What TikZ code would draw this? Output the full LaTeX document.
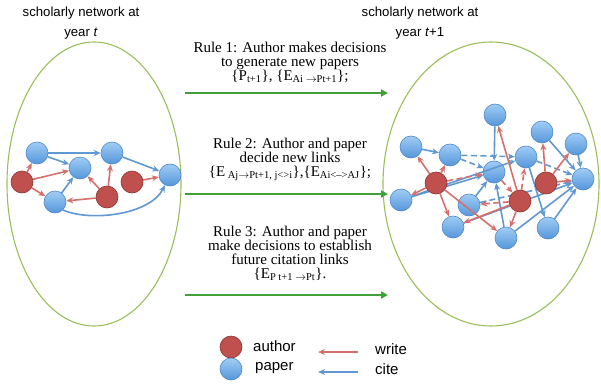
\documentclass[tikz,border=0pt]{standalone}
\usepackage{fontspec}
\setmainfont{Liberation Serif}
\newfontfamily\sansf{Liberation Sans}
\usetikzlibrary{arrows.meta,shapes.geometric}

\definecolor{authfill}{RGB}{192,80,77}
\definecolor{authline}{RGB}{140,52,50}
\definecolor{paptop}{RGB}{160,205,245}
\definecolor{papbot}{RGB}{85,150,218}
\definecolor{papline}{RGB}{80,135,200}
\definecolor{writecol}{RGB}{214,112,108}
\definecolor{citecol}{RGB}{95,152,210}
\definecolor{rimcol}{RGB}{155,190,90}
\definecolor{rulecol}{RGB}{65,160,55}

\tikzset{
  author/.style={circle, minimum size=22pt, inner sep=0pt, fill=authfill, draw=authline, line width=0.6pt},
  paper/.style={circle, minimum size=22pt, inner sep=0pt, top color=paptop, bottom color=papbot, draw=papline, line width=0.6pt},
  wr/.style={draw=writecol, line width=1.6pt, -{Stealth[length=7pt,width=6pt]}},
  ct/.style={draw=citecol, line width=1.6pt, -{Stealth[length=7pt,width=6pt]}},
  dsh/.style={dash pattern=on 6pt off 3.5pt},
  rim/.style={draw=rimcol, line width=1.1pt},
  rulearrow/.style={draw=rulecol, line width=2.4pt, -{Triangle[length=7pt,width=7pt]}},
  ruletext/.style={align=center, inner sep=0pt, font=\fontsize{15}{14}\selectfont},
  titletext/.style={align=center, inner sep=0pt, font=\sansf\fontsize{13.2}{20}\selectfont},
  legtext/.style={anchor=west, inner sep=0pt, font=\sansf\fontsize{15}{15}\selectfont},
}

\begin{document}
\begin{tikzpicture}[x=1pt,y=-1pt]
\useasboundingbox (0,0) rectangle (601,385);

% titles
\node[titletext] (tl) at (81,23) {scholarly network at\\year \textit{t}};
\node[titletext] (tr) at (420,23) {scholarly network at\\year \textit{t}+1};

% the two network snapshots
\node[rim, ellipse, minimum width=174pt, minimum height=284pt, inner sep=0pt] (el) at (94,184) {};
\node[rim, ellipse, minimum width=216pt, minimum height=284pt, inner sep=0pt] (er) at (491,184) {};

% ---- network at year t ----
\node[paper] (a) at (37,153) {};
\node[paper] (b) at (80,168) {};
\node[paper] (c) at (112,153) {};
\node[paper] (d) at (170,175) {};
\node[paper] (e) at (55,202) {};
\node[author] (r1) at (22,182) {};
\node[author] (r2) at (107,197) {};
\node[author] (r3) at (132,182) {};

\draw[ct] (a) -- (c);
\draw[ct] (a) -- (b);
\draw[ct] (e) -- (b);
\draw[ct] (c) -- (d);
\draw[ct] (e.south east) .. controls (90,222) and (150,215) .. (d);
\draw[wr] (r1) -- (a);
\draw[wr] (r1) -- (b);
\draw[wr] (r1) -- (e);
\draw[wr] (r2) -- (b);
\draw[wr] (r2) -- (c);
\draw[wr] (r2) -- (e);
\draw[wr] (r3) -- (d);

% ---- network at year t+1 ----
\node[paper] (p1) at (495,115) {};
\node[paper] (p2) at (542,132) {};
\node[paper] (p3) at (411,147) {};
\node[paper] (p4) at (576,144) {};
\node[paper] (p5) at (450,155) {};
\node[paper] (p6) at (526,157) {};
\node[paper] (p7) at (494,172) {};
\node[paper] (p8) at (583,179) {};
\node[paper] (p9) at (401,200) {};
\node[paper] (p10) at (469,205) {};
\node[paper] (p11) at (453,227) {};
\node[paper] (p12) at (506,238) {};
\node[paper] (p13) at (548,228) {};

% citations
\draw[ct] (p3) -- (p5);
\draw[ct, dsh] (p5) -- (p6);
\draw[ct, dsh] (p5) -- (p7);
\draw[ct, dsh] (p6) -- (p8);
\draw[ct] (p2) -- (p8);
\draw[ct] (p4) -- (p8);
\draw[ct] (p1) -- (p7);
\draw[ct] (p9) -- (p7);
\draw[ct] (p9) -- (p6);
\draw[ct] (p11) -- (p8);
\draw[ct] (p12) -- (p7);
\draw[ct] (p12) -- (p8);
\draw[ct] (p13) -- (p8);
\draw[ct, dsh] (p10) -- (p8);
\draw[ct] (p6) -- (p13);
\draw[ct] (p10) -- (p7);

\node[author] (q1) at (436,183) {};
\node[author] (q2) at (520,201) {};
\node[author] (q3) at (546,183) {};

% authorship
\draw[wr] (q1) -- (p3);
\draw[wr] (q1) -- (p5);
\draw[wr] (q1) -- (p9);
\draw[wr] (q1) -- (p11);
\draw[wr, dsh] (q1) -- (p7);
\draw[wr] (q1) -- (p12);
\draw[wr] (q2) -- (p1);
\draw[wr] (q2) -- (p12);
\draw[wr] (q2) -- (p11);
\draw[wr, dsh] (q2) -- (p10);
\draw[wr, dsh] (q2) -- (p6);
\draw[wr, dsh] (p7) -- (q2);
\draw[wr] (q3) -- (p2);
\draw[wr] (q3) -- (p4);
\draw[wr] (q3) -- (p8);

% ---- evolution rules ----
\node[ruletext] (rule1) at (290,62) {Rule 1: Author makes decisions\\to generate new papers\\
  \{P\textsubscript{t+1}\}, \{E\textsubscript{Ai $\rightarrow$Pt+1}\};};
\node[ruletext] (rule2) at (290,159) {Rule 2: Author and paper\\decide new links\\
  \{E\textsubscript{ Aj$\rightarrow$Pt+1, j<>i}\},\{E\textsubscript{Ai<-->AJ}\};};
\node[ruletext] (rule3) at (290,253) {Rule 3: Author and paper\\make decisions to establish\\future citation links\\
  \{E\textsubscript{P t+1 $\rightarrow$Pt}\}.};

\coordinate (g1s) at (185,93);  \coordinate (g1e) at (388,93);
\coordinate (g2s) at (185,194); \coordinate (g2e) at (388,194);
\coordinate (g3s) at (185,295); \coordinate (g3e) at (388,295);
\draw[rulearrow] (g1s) -- (g1e);
\draw[rulearrow] (g2s) -- (g2e);
\draw[rulearrow] (g3s) -- (g3e);

% ---- legend ----
\node[author] (la) at (231,347) {};
\node[paper] (lp) at (231,369) {};
\node[legtext] (lat) at (253,346) {author};
\node[legtext] (lpt) at (255,368) {paper};
\coordinate (w1) at (358,352); \coordinate (w2) at (318,352);
\coordinate (c1) at (358,372); \coordinate (c2) at (318,372);
\draw[wr, line width=2.2pt] (w1) -- (w2);
\draw[ct, line width=2.2pt] (c1) -- (c2);
\node[legtext] (lwt) at (375,349) {write};
\node[legtext] (lct) at (375,369) {cite};
\end{tikzpicture}
\end{document}
